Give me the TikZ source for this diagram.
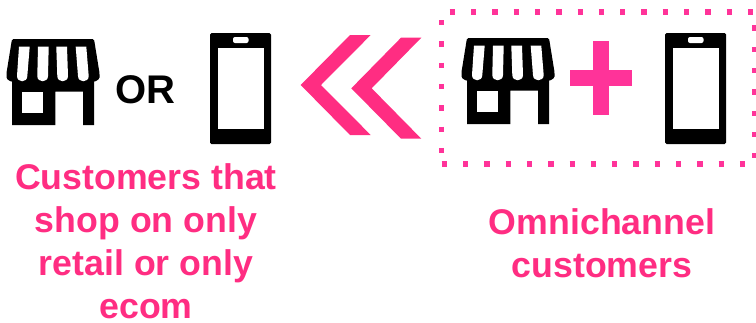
\documentclass[tikz,border=0pt]{standalone}
\usepackage{fontspec}
\setmainfont{Liberation Sans}
\usepackage{xcolor}
\usetikzlibrary{positioning}
\definecolor{omnipink}{HTML}{FF3399}
\definecolor{chevronpink}{HTML}{FF2D82}
\tikzset{
    caption/.style={font=\fontsize{35.7}{43}\selectfont\bfseries, text=chevronpink, align=center, inner sep=0pt},
    dotborder/.style={omnipink, line width=5.3pt, dash pattern=on 5.3pt off 16pt, dash phase=#1},
    store/.pic={
        \fill[black, rounded corners=1.5pt] (0, 0) -- (82, 0) -- (87.5, 34) -- (87.5, 40) -- (82, 43) -- (0, 43) -- (-5.5, 40) -- (-5.5, 34) -- cycle;
        \fill[black] (0, 40) -- (82, 40) -- (82, 86) -- (71, 86) -- (71, 52.7) -- (43.3, 52.7) -- (43.3, 86) -- (0, 86) -- cycle;
        \fill[white] (10, 52.7) rectangle (30.7, 74);
        \foreach \ta/\tb/\ba/\bb in {7/17.7/5/15.3, 26/36.7/25.3/36, 44.3/55/45.3/56, 63.7/74.3/66/76.7} {
            \fill[white] (\ta, 7.7) -- (\tb, 7.7) -- (\bb, 37) .. controls (\bb, 44) and (\ba, 44) .. (\ba, 37) -- cycle;
        }
    },
    phone/.pic={
        \fill[black, rounded corners=1.5pt] (0, 0) rectangle (61, 111);
        \fill[white] (7.5, 15) rectangle (53.5, 96);
        \fill[white, rounded corners=2pt] (23, 4) rectangle (38.5, 10);
    }
}
\begin{document}
\begin{tikzpicture}[x=1pt, y=-1pt]
    \useasboundingbox (0, 0) rectangle (756, 322);

    \pic at (12, 39) {store};
    \pic at (210, 33) {phone};
    \node[font=\fontsize{40}{44}\selectfont\bfseries, inner sep=0pt] (orlabel) at (145, 90) {OR};

    % chevrons
    \fill[chevronpink] (300.7, 85) -- (350, 35) -- (370.7, 35) -- (321, 85) -- (370.7, 135) -- (350, 135) -- cycle;
    \fill[chevronpink] (351.3, 88.3) -- (401, 37.7) -- (421.3, 37.7) -- (371.7, 88.3) -- (421.3, 138.7) -- (401, 138.7) -- cycle;

    % dotted box
    \draw[dotborder=13.3pt] (441.7, 12) -- (755, 12);
    \draw[dotborder=13.3pt] (441.7, 12) -- (441.7, 164);
    \draw[dotborder=0pt] (441.7, 164) -- (755, 164);
    \draw[dotborder=8pt] (755, 12) -- (755, 164);

    \pic at (467, 38) {store};
    \fill[omnipink] (592.7, 41) rectangle (609, 115.3);
    \fill[omnipink] (569.7, 70) rectangle (632.3, 86.3);
    \pic at (665, 33) {phone};

    \node[caption] (single) at (146, 241) {Customers that\\shop on only\\retail or only\\ecom};
    \node[caption] (omni) at (602, 243) {Omnichannel\\customers};
\end{tikzpicture}
\end{document}
